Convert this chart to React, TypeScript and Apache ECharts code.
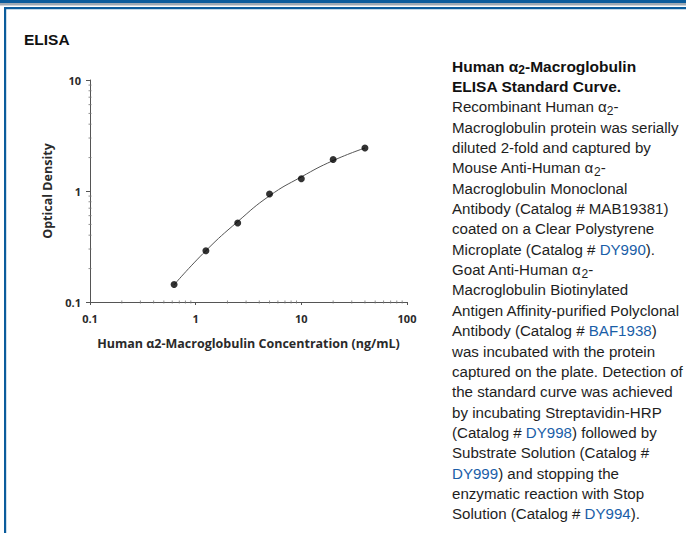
import React, { useEffect, useRef } from "react";
import * as echarts from "echarts";

const concentrations = [0.625, 1.25, 2.5, 5, 10, 20, 40];
const opticalDensity = [0.144, 0.29, 0.515, 0.94, 1.29, 1.92, 2.44];
// fitted standard curve at the same concentrations
const fitOpticalDensity = [0.143, 0.29, 0.53, 0.905, 1.34, 1.88, 2.44];
const minorTickValues = [
  0.2, 0.3, 0.4, 0.5, 0.6, 0.7, 0.8, 0.9,
  2, 3, 4, 5, 6, 7, 8, 9,
  20, 30, 40, 50, 60, 70, 80, 90,
];
const yMinorTickValues = [0.2, 0.3, 0.4, 0.5, 0.6, 0.7, 0.8, 0.9, 2, 3, 4, 5, 6, 7, 8, 9];

const titleText = "ELISA";
const xAxisName = "Human \u03b12-Macroglobulin Concentration (ng/mL)";
const yAxisName = "Optical Density";

type Seg = [string, string];
const captionLines: Seg[][] = [
  [["b", "Human \u03b1"], ["bs", "2"], ["b", "-Macroglobulin"]],
  [["b", "ELISA Standard Curve."]],
  [["r", "Recombinant Human \u03b1"], ["rs", "2"], ["r", "-"]],
  [["r", "Macroglobulin protein was serially"]],
  [["r", "diluted 2-fold and captured by"]],
  [["r", "Mouse Anti-Human \u03b1"], ["rs", "2"], ["r", "-"]],
  [["r", "Macroglobulin Monoclonal"]],
  [["r", "Antibody (Catalog # MAB19381)"]],
  [["r", "coated on a Clear Polystyrene"]],
  [["r", "Microplate (Catalog # "], ["l", "DY990"], ["r", ")."]],
  [["r", "Goat Anti-Human \u03b1"], ["rs", "2"], ["r", "-"]],
  [["r", "Macroglobulin Biotinylated"]],
  [["r", "Antigen Affinity-purified Polyclonal"]],
  [["r", "Antibody (Catalog # "], ["l", "BAF1938"], ["r", ")"]],
  [["r", "was incubated with the protein"]],
  [["r", "captured on the plate. Detection of"]],
  [["r", "the standard curve was achieved"]],
  [["r", "by incubating Streptavidin-HRP"]],
  [["r", "(Catalog # "], ["l", "DY998"], ["r", ") followed by"]],
  [["r", "Substrate Solution (Catalog #"]],
  [["l", "DY999"], ["r", ") and stopping the"]],
  [["r", "enzymatic reaction with Stop"]],
  [["r", "Solution (Catalog # "], ["l", "DY994"], ["r", ")."]],
];

const BLUE = "#0b5c9c";
const TXT_FONT = "'Liberation Sans', Arial, Helvetica, sans-serif";
const CHART_FONT = "'Open Sans', 'Noto Sans', sans-serif";

export default function App() {
  const ref = useRef<HTMLDivElement>(null);
  useEffect(() => {
    if (!ref.current) return;
    const chart = echarts.init(ref.current, undefined, { renderer: "svg" });

    const rich = {
      r: { fontFamily: TXT_FONT, fontSize: 15.1, fill: "#1e1e1e", lineHeight: 20 },
      rs: { fontFamily: TXT_FONT, fontSize: 12, fill: "#1e1e1e", lineHeight: 10, verticalAlign: "bottom" },
      b: { fontFamily: TXT_FONT, fontSize: 15.5, fontWeight: "bold", fill: "#111", lineHeight: 20 },
      bs: { fontFamily: TXT_FONT, fontSize: 12, fontWeight: "bold", fill: "#111", lineHeight: 10, verticalAlign: "bottom" },
      l: { fontFamily: TXT_FONT, fontSize: 15.1, fill: "#1a5ea8", lineHeight: 20 },
    };

    const captionGraphics = captionLines.map((line, i) => ({
      type: "text",
      x: 452,
      y: 66 + i * 20.36,
      silent: true,
      style: {
        text: line.map(([k, t]) => `{${k}|${t}}`).join(""),
        rich,
        verticalAlign: "middle",
        align: "left",
      },
    }));

    chart.setOption({
      animation: false,
      backgroundColor: "#ffffff",
      graphic: [
        { type: "rect", shape: { x: 0, y: 0, width: 686, height: 3 }, style: { fill: BLUE }, silent: true },
        { type: "rect", shape: { x: 0, y: 3, width: 686, height: 2.5 }, style: { fill: "#9ea9b4" }, silent: true },
        { type: "rect", shape: { x: 4, y: 7, width: 682, height: 2.3 }, style: { fill: BLUE }, silent: true },
        { type: "rect", shape: { x: 4, y: 7, width: 2.2, height: 526 }, style: { fill: BLUE }, silent: true },
        {
          type: "text",
          x: 24,
          y: 39,
          silent: true,
          style: {
            text: titleText,
            font: `bold 15.5px ${TXT_FONT}`,
            fill: "#111",
            verticalAlign: "middle",
          },
        },
        ...captionGraphics,
      ],
      grid: { left: 90, right: 279, top: 80, bottom: 231, containLabel: false },
      xAxis: {
        type: "log",
        logBase: 10,
        min: 0.1,
        max: 100,
        name: xAxisName,
        nameLocation: "middle",
        nameGap: 35,
        nameTextStyle: { fontFamily: CHART_FONT, fontWeight: 700, fontSize: 12.5, color: "#2a2a2a" },
        axisLine: { show: true, lineStyle: { color: "#555", width: 1 } },
        axisTick: { show: true, length: 3, lineStyle: { color: "#555" } },
        axisLabel: {
          fontFamily: CHART_FONT,
          fontWeight: 700,
          fontSize: 11,
          color: "#2a2a2a",
          margin: 11,
          formatter: (v: number) => String(v),
        },
        splitLine: { show: false },
      },
      yAxis: {
        type: "log",
        logBase: 10,
        min: 0.1,
        max: 10,
        name: yAxisName,
        nameLocation: "middle",
        nameGap: 36,
        nameTextStyle: { fontFamily: CHART_FONT, fontWeight: 700, fontSize: 12.5, color: "#2a2a2a" },
        axisLine: { show: true, lineStyle: { color: "#555", width: 1 } },
        axisTick: { show: true, length: 4, lineStyle: { color: "#555" } },
        axisLabel: {
          fontFamily: CHART_FONT,
          fontWeight: 700,
          fontSize: 11,
          color: "#2a2a2a",
          margin: 9,
          formatter: (v: number) => String(v),
        },
        splitLine: { show: false },
      },
      series: [
        {
          type: "scatter",
          silent: true,
          symbol: "rect",
          symbolSize: [1, 3],
          itemStyle: { color: "#777" },
          data: minorTickValues.map((v) => [v, 0.1]),
          z: 1,
        },
        {
          type: "scatter",
          silent: true,
          symbol: "rect",
          symbolSize: [3, 1],
          itemStyle: { color: "#777" },
          data: yMinorTickValues.map((v) => [0.1, v]),
          z: 1,
        },
        {
          type: "line",
          smooth: 0.5,
          data: concentrations.map((c, i) => [c, fitOpticalDensity[i]]),
          showSymbol: false,
          symbol: "none",
          lineStyle: { color: "#555", width: 1 },
          z: 2,
        },
        {
          type: "scatter",
          data: concentrations.map((c, i) => [c, opticalDensity[i]]),
          symbol: "circle",
          symbolSize: 7,
          itemStyle: { color: "#000" },
          z: 3,
        },
      ],
    });
    return () => chart.dispose();
  }, []);
  return (
    <div
      ref={ref}
      style={{ position: "fixed", left: 0, top: 0, width: 686, height: 533 }}
    />
  );
}
